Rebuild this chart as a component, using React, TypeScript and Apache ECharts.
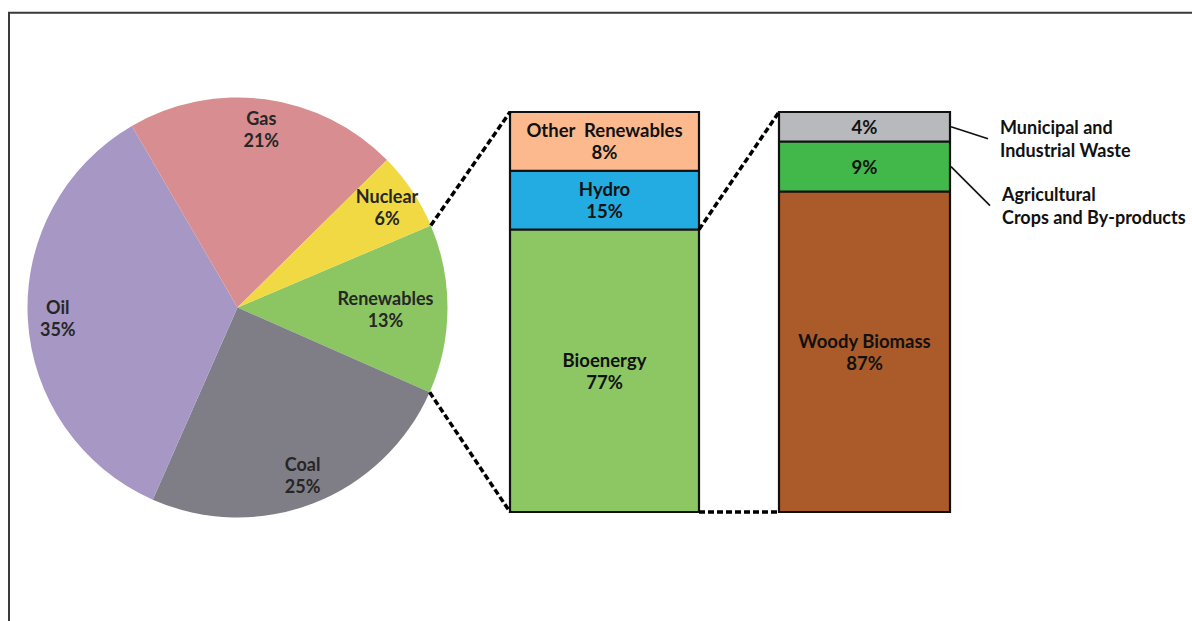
import React, { useEffect, useRef } from "react";
import * as echarts from "echarts";

// ---- data ----
const pieCategories = ["Renewables", "Coal", "Oil", "Gas", "Nuclear"];
const pieValues = [13, 25, 35, 21, 6];
const pieColors = ["#8CC663", "#7F7E86", "#A797C4", "#D88E90", "#F0D943"];

const renewCategories = ["Bioenergy", "Hydro", "Other  Renewables"];
const renewPercents = [77, 15, 8];
// box heights as drawn in the picture (share of the column)
const renewDrawnShares = [70.6, 14.7, 14.7];
const renewColors = ["#8CC764", "#22ACE2", "#FBB98D"];

const bioCategories = ["Woody Biomass", "Agricultural\nCrops and By-products", "Municipal and\nIndustrial Waste"];
const bioPercents = [87, 9, 4];
const bioDrawnShares = [80.1, 12.5, 7.4];
const bioColors = ["#AB5B29", "#42B84A", "#B8B9BD"];

const FONT = "Lato, 'Open Sans', sans-serif";

export default function App() {
  const ref = useRef<HTMLDivElement>(null);
  useEffect(() => {
    if (!ref.current) return;
    const chart = echarts.init(ref.current, null, { renderer: "svg" });
    const CX = 237.5, CY = 307.5, R = 210, START = 23;
    const G1 = { left: 510, top: 112, width: 189, height: 400 };
    const G2 = { left: 779, top: 112, width: 171, height: 400 };

    const pieData = pieCategories.map((c, i) => ({
      name: c,
      value: pieValues[i],
      itemStyle: { color: pieColors[i] },
    }));
    const labelRing = (r0: number, r1: number, show: (n: string) => boolean) => ({
      type: "pie",
      center: [CX, CY],
      radius: [r0, r1],
      startAngle: START,
      silent: true,
      z: 5,
      itemStyle: { color: "rgba(0,0,0,0)" },
      labelLine: { show: false },
      data: pieCategories.map((c, i) => ({
        name: c,
        value: pieValues[i],
        label: { show: show(c) },
      })),
      label: {
        position: "inside",
        formatter: (p: any) => `${p.name}\n${p.value}%`,
        fontFamily: FONT,
        fontWeight: "bold",
        fontSize: 18,
        lineHeight: 22,
        color: "#262626",
      },
      emphasis: { disabled: true },
    });

    const makeBars = (
      gi: number,
      names: string[],
      pct: number[],
      shares: number[],
      colors: string[],
      showName: boolean[],
      width: number
    ) =>
      names.map((n, i) => ({
        type: "bar",
        name: n,
        xAxisIndex: gi,
        yAxisIndex: gi,
        stack: "s" + gi,
        barWidth: width,
        data: [shares[i]],
        itemStyle: { color: colors[i] },
        label: {
          show: true,
          position: "inside",
          formatter: showName[i] ? `${n}\n${pct[i]}%` : `${pct[i]}%`,
          fontFamily: FONT,
          fontWeight: "bold",
          fontSize: 18.5,
          lineHeight: 22,
          color: "#111",
        },
        emphasis: { disabled: true },
      }));

    chart.setOption({
      animation: false,
      backgroundColor: "#fff",
      grid: [
        { ...G1, containLabel: false },
        { ...G2, containLabel: false },
      ],
      xAxis: [
        { type: "category", gridIndex: 0, data: ["Renewables"], show: false },
        { type: "category", gridIndex: 1, data: ["Bioenergy"], show: false },
      ],
      yAxis: [
        { type: "value", gridIndex: 0, min: 0, max: 100, show: false },
        { type: "value", gridIndex: 1, min: 0, max: 100, show: false },
      ],
      series: [
        {
          type: "pie",
          center: [CX, CY],
          radius: R,
          startAngle: START,
          silent: true,
          label: { show: false },
          labelLine: { show: false },
          data: pieData,
          emphasis: { disabled: true },
        },
        labelRing(146, 208, (n) => n !== "Renewables"),
        labelRing(80, 210, (n) => n === "Renewables"),
        ...makeBars(0, renewCategories, renewPercents, renewDrawnShares, renewColors, [true, true, true], G1.width),
        ...makeBars(1, bioCategories, bioPercents, bioDrawnShares, bioColors, [true, false, false], G2.width),
      ],
    });

    // outlines and connectors computed from the chart's own geometry
    const yPix = (gi: number, v: number) =>
      (chart.convertToPixel({ xAxisIndex: gi, yAxisIndex: gi } as any, [0, v]) as number[])[1];
    const total = pieValues.reduce((a, b) => a + b, 0);
    const angAt = (cum: number) => ((START - (cum / total) * 360) * Math.PI) / 180;
    const pPt = (a: number) => [CX + R * Math.cos(a), CY - R * Math.sin(a)];
    const pTop = pPt(angAt(0));
    const pBot = pPt(angAt(pieValues[0]));
    const b1Right = G1.left + G1.width;
    const bioTop = renewDrawnShares[0];
    const muniMid = 100 - bioDrawnShares[2] / 2;
    const agriMid = bioDrawnShares[0] + bioDrawnShares[1] / 2;
    const b2Right = G2.left + G2.width + 1;
    const dash = { stroke: "#000", lineWidth: 3.5, lineDash: [6, 3] };
    const solid = { stroke: "#111", lineWidth: 2.2 };
    const m1s = [b2Right, yPix(1, muniMid)];
    const m1e = [m1s[0] + 37, m1s[1] + 12];
    const m2s = [b2Right, yPix(1, agriMid)];
    const m2e = [m2s[0] + 39, m2s[1] + 39];
    const lineG = (a: number[], b: number[], style: any) => ({
      type: "line",
      silent: true,
      z: 10,
      shape: { x1: a[0], y1: a[1], x2: b[0], y2: b[1] },
      style,
    });
    const sideText = (pt: number[], text: string) => ({
      type: "text",
      silent: true,
      z: 10,
      x: pt[0] + 12,
      y: pt[1],
      style: {
        text,
        fill: "#111",
        font: `bold 18px ${FONT}`,
        lineHeight: 23,
        textAlign: "left",
        textVerticalAlign: "middle",
      },
    });
    const outline = (gi: number, G: any, shares: number[]) => {
      const yTop = yPix(gi, 100), yBot = yPix(gi, 0);
      const els: any[] = [
        {
          type: "rect",
          silent: true,
          z: 9,
          shape: { x: G.left, y: yTop, width: G.width, height: yBot - yTop },
          style: { fill: "none", stroke: "#111", lineWidth: 2.2 },
        },
      ];
      let cum = 0;
      for (let i = 0; i < shares.length - 1; i++) {
        cum += shares[i];
        const y = yPix(gi, cum);
        els.push(lineG([G.left, y], [G.left + G.width, y], solid));
      }
      return els;
    };
    chart.setOption({
      graphic: [
        {
          type: "rect",
          silent: true,
          z: 0,
          shape: { x: 9, y: 12.7, width: 1400, height: 900 },
          style: { fill: "none", stroke: "#3a3a3a", lineWidth: 2 },
        },
        ...outline(0, G1, renewDrawnShares),
        ...outline(1, G2, bioDrawnShares),
        lineG(pTop, [G1.left, yPix(0, 100)], dash),
        lineG(pBot, [G1.left, yPix(0, 0)], dash),
        lineG([b1Right, yPix(0, bioTop)], [G2.left, yPix(1, 100)], dash),
        lineG([b1Right, yPix(0, 0)], [G2.left, yPix(1, 0)], dash),
        lineG(m1s, m1e, { stroke: "#111", lineWidth: 1.6 }),
        lineG(m2s, m2e, { stroke: "#111", lineWidth: 1.6 }),
        sideText(m1e, bioCategories[2]),
        sideText(m2e, bioCategories[1]),
      ],
    });
    return () => chart.dispose();
  }, []);
  return (
    <div
      ref={ref}
      style={{ position: "fixed", left: 0, top: 0, width: 1192, height: 621, background: "#fff" }}
    />
  );
}
